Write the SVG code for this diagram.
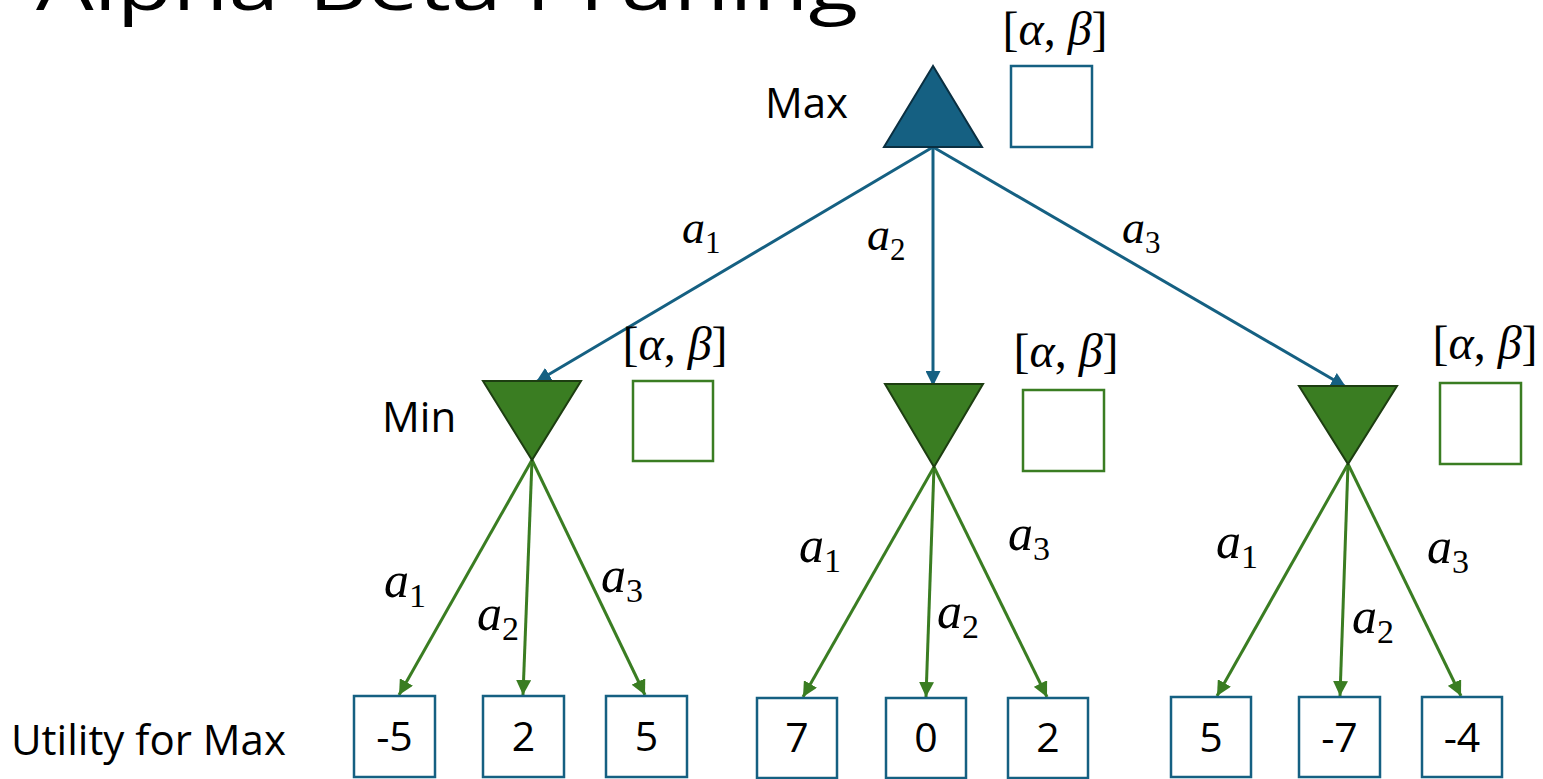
<svg xmlns="http://www.w3.org/2000/svg" width="1543" height="779" viewBox="0 0 1543 779">
  <style>
    .lbl { font-family: "Open Sans", "Liberation Sans", sans-serif; font-size: 42px; fill: #000; }
    .num { font-family: "Open Sans", "Liberation Sans", sans-serif; font-size: 41px; fill: #000; text-anchor: middle; }
    .math { font-family: "Liberation Serif", "DejaVu Serif", serif; fill: #000; }
    .mi { font-style: italic; }
    .ab { font-family: "Liberation Serif", "DejaVu Serif", serif; font-size: 48px; fill: #000; text-anchor: middle; }
    .top { font-size: 46px; }
    .grn { font-size: 50px; }
    .leaf { fill: #fff; stroke: #156082; stroke-width: 2.5; }
    .boxB { fill: #fff; stroke: #156082; stroke-width: 2.5; }
    .boxG { fill: #fff; stroke: #3A7D22; stroke-width: 2.5; }
    .maxT { fill: #156082; stroke: #0A2F41; stroke-width: 2; }
    .minT { fill: #3A7D22; stroke: #1D3E11; stroke-width: 2; }
    .eB { stroke: #156082; stroke-width: 3; fill: none; marker-end: url(#arrB); }
    .eG { stroke: #3A7D22; stroke-width: 3; fill: none; marker-end: url(#arrG); }
  </style>
  <defs>
    <marker id="arrB" viewBox="0 0 10 10" refX="10" refY="5" markerWidth="15" markerHeight="15" markerUnits="userSpaceOnUse" orient="auto">
      <path d="M0,0 L10,5 L0,10 z" fill="#156082"/>
    </marker>
    <marker id="arrG" viewBox="0 0 10 10" refX="10" refY="5" markerWidth="15" markerHeight="15" markerUnits="userSpaceOnUse" orient="auto">
      <path d="M0,0 L10,5 L0,10 z" fill="#3A7D22"/>
    </marker>
  </defs>

  <text id="title" x="36" y="10" style="font-family:'Open Sans','Liberation Sans',sans-serif;font-size:72px;fill:#000" textLength="822" lengthAdjust="spacingAndGlyphs">Alpha-Beta Pruning</text>

  <g id="connectors">
    <line class="eB" x1="933" y1="147" x2="536" y2="382"/>
    <line class="eB" x1="933" y1="147" x2="933" y2="386"/>
    <line class="eB" x1="933" y1="147" x2="1346" y2="387"/>
    <line class="eG" x1="532" y1="460" x2="399" y2="695"/>
    <line class="eG" x1="532" y1="460" x2="523" y2="695"/>
    <line class="eG" x1="532" y1="460" x2="645" y2="695"/>
    <line class="eG" x1="934" y1="467" x2="803" y2="697"/>
    <line class="eG" x1="934" y1="467" x2="926" y2="697"/>
    <line class="eG" x1="934" y1="467" x2="1047" y2="697"/>
    <line class="eG" x1="1348" y1="464" x2="1217" y2="696"/>
    <line class="eG" x1="1348" y1="464" x2="1340" y2="696"/>
    <line class="eG" x1="1348" y1="464" x2="1461" y2="696"/>
  </g>

  <g id="edge-labels">
    <text class="math top" x="682" y="243"><tspan class="mi">a</tspan><tspan dy="10" font-size="31">1</tspan></text>
    <text class="math top" x="867" y="250"><tspan class="mi">a</tspan><tspan dy="10" font-size="31">2</tspan></text>
    <text class="math top" x="1122" y="243"><tspan class="mi">a</tspan><tspan dy="10" font-size="31">3</tspan></text>

    <text class="math grn" x="384" y="597"><tspan class="mi">a</tspan><tspan dy="10" font-size="34">1</tspan></text>
    <text class="math grn" x="477" y="630"><tspan class="mi">a</tspan><tspan dy="10" font-size="34">2</tspan></text>
    <text class="math grn" x="601" y="592"><tspan class="mi">a</tspan><tspan dy="10" font-size="34">3</tspan></text>

    <text class="math grn" x="799" y="562"><tspan class="mi">a</tspan><tspan dy="10" font-size="34">1</tspan></text>
    <text class="math grn" x="937" y="628"><tspan class="mi">a</tspan><tspan dy="10" font-size="34">2</tspan></text>
    <text class="math grn" x="1008" y="550"><tspan class="mi">a</tspan><tspan dy="10" font-size="34">3</tspan></text>

    <text class="math grn" x="1216" y="558"><tspan class="mi">a</tspan><tspan dy="10" font-size="34">1</tspan></text>
    <text class="math grn" x="1352" y="633"><tspan class="mi">a</tspan><tspan dy="10" font-size="34">2</tspan></text>
    <text class="math grn" x="1427" y="563"><tspan class="mi">a</tspan><tspan dy="10" font-size="34">3</tspan></text>
  </g>

  <g id="max-node">
    <polygon class="maxT" points="933,66 884,147 982,147"/>
    <text class="lbl" x="765" y="118">Max</text>
    <rect class="boxB" x="1011" y="66" width="81" height="81"/>
    <text class="ab" x="1055" y="45">[<tspan class="mi">α</tspan>, <tspan class="mi">β</tspan>]</text>
  </g>

  <g id="min-node-1">
    <polygon class="minT" points="483,381 581,381 532,460"/>
    <text class="lbl" x="382" y="432">Min</text>
    <rect class="boxG" x="633" y="381" width="80" height="80"/>
    <text class="ab" x="675" y="360">[<tspan class="mi">α</tspan>, <tspan class="mi">β</tspan>]</text>
  </g>

  <g id="min-node-2">
    <polygon class="minT" points="885,384 983,384 934,467"/>
    <rect class="boxG" x="1023" y="390" width="81" height="81"/>
    <text class="ab" x="1066" y="367">[<tspan class="mi">α</tspan>, <tspan class="mi">β</tspan>]</text>
  </g>

  <g id="min-node-3">
    <polygon class="minT" points="1299,386 1397,386 1348,464"/>
    <rect class="boxG" x="1440" y="383" width="81" height="81"/>
    <text class="ab" x="1485" y="359">[<tspan class="mi">α</tspan>, <tspan class="mi">β</tspan>]</text>
  </g>

  <text id="utility-label" class="lbl" x="11" y="755">Utility for Max</text>

  <g id="leaf-1"><rect class="leaf" x="354" y="696" width="81" height="81"/><text class="num" x="394.5" y="751">-5</text></g>
  <g id="leaf-2"><rect class="leaf" x="483" y="696" width="81" height="81"/><text class="num" x="523.5" y="751">2</text></g>
  <g id="leaf-3"><rect class="leaf" x="606" y="696" width="81" height="81"/><text class="num" x="646.5" y="751">5</text></g>
  <g id="leaf-4"><rect class="leaf" x="757" y="698" width="80" height="80"/><text class="num" x="797" y="752">7</text></g>
  <g id="leaf-5"><rect class="leaf" x="886" y="698" width="80" height="80"/><text class="num" x="926" y="752">0</text></g>
  <g id="leaf-6"><rect class="leaf" x="1008" y="698" width="80" height="80"/><text class="num" x="1048" y="752">2</text></g>
  <g id="leaf-7"><rect class="leaf" x="1171" y="697" width="80" height="80"/><text class="num" x="1211" y="752">5</text></g>
  <g id="leaf-8"><rect class="leaf" x="1299" y="697" width="81" height="80"/><text class="num" x="1339.5" y="752">-7</text></g>
  <g id="leaf-9"><rect class="leaf" x="1422" y="697" width="80" height="80"/><text class="num" x="1462" y="752">-4</text></g>
</svg>
